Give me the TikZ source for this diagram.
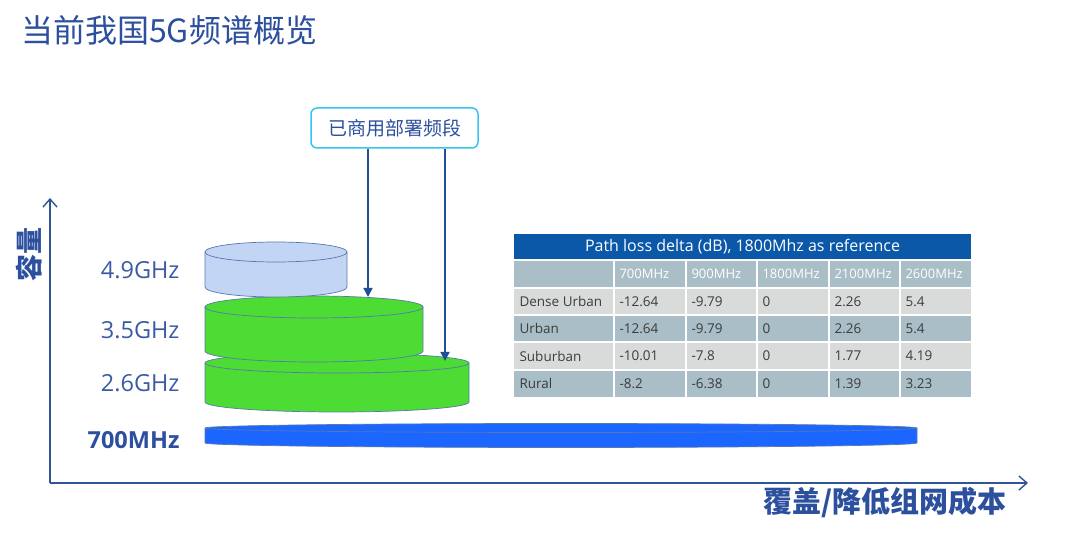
\documentclass[tikz,border=0pt]{standalone}
\usepackage{fontspec}
\setmainfont{Open Sans}
\newfontfamily\cjk{Noto Sans CJK SC}
\usetikzlibrary{arrows.meta,calc}
\definecolor{navy}{HTML}{2C4F9E}
\definecolor{labblue}{HTML}{3A5AA6}
\definecolor{axisblue}{HTML}{2F5597}
\definecolor{arrblue}{HTML}{1F4E9A}
\definecolor{boxcyan}{HTML}{33C6F0}
\definecolor{lightcyl}{HTML}{C2D5F5}
\definecolor{greencyl}{HTML}{4CDC33}
\definecolor{bluecyl}{HTML}{1A66FF}
\definecolor{cyledge}{HTML}{5A78AE}
\definecolor{thead}{HTML}{0B58A8}
\definecolor{tteal}{HTML}{A9BEC6}
\definecolor{tlight}{HTML}{D9DBDB}
\definecolor{ttext}{HTML}{3C3C3C}
\newcommand{\drawcyl}[6]{%
  \path[cylbody, fill=#6] (#1,#3) -- (#1,#4)
    arc[start angle=180, end angle=360, x radius={(#2-#1)/2}, y radius=#5]
    -- (#2,#3)
    arc[start angle=0, end angle=180, x radius={(#2-#1)/2}, y radius=#5] -- cycle;
  \draw[cylline] (#1,#3) arc[start angle=180, end angle=360, x radius={(#2-#1)/2}, y radius=#5];
  \draw[cylline] (#1,#3) -- (#1,#4)
    arc[start angle=180, end angle=360, x radius={(#2-#1)/2}, y radius=#5] -- (#2,#3)
    arc[start angle=0, end angle=180, x radius={(#2-#1)/2}, y radius=#5];
}
\begin{document}
\begin{tikzpicture}[x=1pt,y=1pt,
  cylbody/.style={draw=none},
  cylline/.style={draw=cyledge, line width=0.7pt},
  axisline/.style={draw=axisblue, line width=1.4pt, -{Straight Barb[length=8pt,width=14pt,line width=1.4pt]}},
  freqlab/.style={anchor=east, text=labblue, font=\fontsize{23.5}{26}\selectfont},
  callarrow/.style={draw=arrblue, line width=1.6pt, -{Triangle[length=9pt,width=9pt]}},
  cellbody/.style={anchor=west, text=ttext, font=\fontsize{13.5}{15}\selectfont},
  cellhead/.style={anchor=west, text=white, font=\fontsize{13}{15}\selectfont},
  gridline/.style={draw=white, line width=1.5pt}
]
\useasboundingbox[fill=white] (0,0) rectangle (1080,540);

% title
\node[anchor=west, text=navy, font=\cjk\fontsize{32}{35}\selectfont, inner sep=0pt] (title) at (21,510) {当前我国5G频谱概览};

% axes
\coordinate (origin) at (50,57);
\coordinate (ytop) at (50,342);
\coordinate (xend) at (1028,57);
\draw[axisline] (origin) -- (ytop);
\draw[axisline] (origin) -- (xend);
\node[rotate=90, text=navy, font=\cjk\bfseries\fontsize{27}{30}\selectfont, inner sep=0pt] (ylab) at (29,285) {容量};
\node[text=navy, font=\cjk\bfseries\fontsize{29}{32}\selectfont, inner sep=0pt] (xlab) at (885,37) {覆盖/降低组网成本};

% cylinders
\drawcyl{205}{917}{112}{97}{4.5}{bluecyl}
\drawcyl{205}{469}{177}{138}{10}{greencyl}
\drawcyl{205}{423}{233}{189}{11}{greencyl}
\drawcyl{205}{347}{288}{253}{10}{lightcyl}

% frequency labels
\node[freqlab] (f49) at (183,270) {4.9GHz};
\node[freqlab] (f35) at (183,210) {3.5GHz};
\node[freqlab] (f26) at (183,157) {2.6GHz};
\node[freqlab, text=navy, font=\bfseries\fontsize{23.5}{26}\selectfont] (f07) at (183,100) {700MHz};

% callout
\node[draw=boxcyan, line width=1.5pt, rounded corners=6pt, fill=white,
  minimum width=167pt, minimum height=40pt, text=navy,
  font=\cjk\fontsize{19}{22}\selectfont] (box) at (394.5,412) {已商用部署频段};
\coordinate (t1) at (368,243);
\coordinate (t2) at (445,179);
\draw[callarrow] (box.south -| t1) -- (t1);
\draw[callarrow] (box.south -| t2) -- (t2);

% table
\fill[thead] (514,280) rectangle (971,306);
\fill[tteal] (514,252) rectangle (971,280);
\fill[tlight] (514,225) rectangle (971,252);
\fill[tteal] (514,198) rectangle (971,225);
\fill[tlight] (514,170) rectangle (971,198);
\fill[tteal] (514,143) rectangle (971,170);
\foreach \y in {280,252,225,198,170} \draw[gridline] (514,\y) -- (971,\y);
\foreach \x in {614,686,757,829,900} \draw[gridline] (\x,143) -- (\x,280);
\node[text=white, font=\fontsize{16}{18}\selectfont] (thdr) at (742.5,293) {Path loss delta (dB), 1800Mhz as reference};

\foreach \t [count=\i] in {700MHz,900MHz,1800MHz,2100MHz,2600MHz}{
  \pgfmathsetmacro{\cx}{{614,686,757,829,900}[\i-1]+2}
  \node[cellhead] (h\i) at (\cx,266) {\t};
}
\foreach \a/\b/\c/\d/\e/\f [count=\r] in
  {Dense Urban/-12.64/-9.79/0/2.26/5.4,
   Urban/-12.64/-9.79/0/2.26/5.4,
   Suburban/-10.01/-7.8/0/1.77/4.19,
   Rural/-8.2/-6.38/0/1.39/3.23}{
  \pgfmathsetmacro{\cy}{{238.5,211.5,184,156.5}[\r-1]}
  \node[cellbody] (r\r c0) at (516,\cy) {\a};
  \node[cellbody] (r\r c1) at (616,\cy) {\b};
  \node[cellbody] (r\r c2) at (688,\cy) {\c};
  \node[cellbody] (r\r c3) at (759,\cy) {\d};
  \node[cellbody] (r\r c4) at (831,\cy) {\e};
  \node[cellbody] (r\r c5) at (902,\cy) {\f};
}
\end{tikzpicture}
\end{document}
